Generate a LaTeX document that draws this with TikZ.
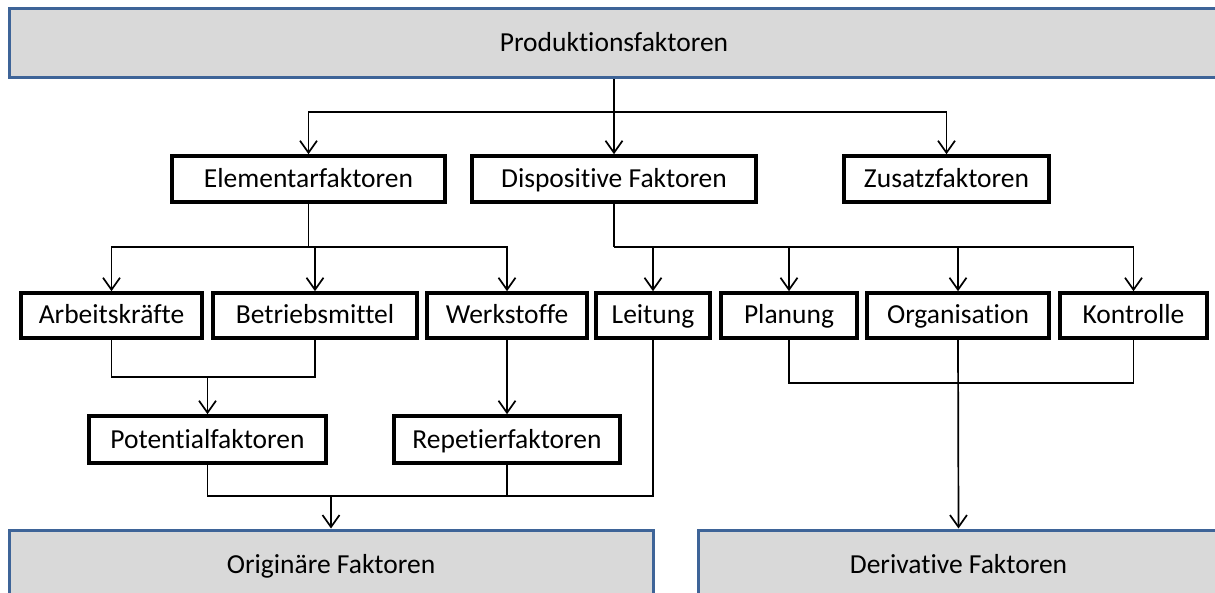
\documentclass[tikz,border=0pt]{standalone}
\usepackage{fontspec}
\setmainfont{Carlito}[Ligatures={NoCommon,NoDiscretionary,NoContextual}]
\usetikzlibrary{arrows.meta}
\definecolor{bborder}{RGB}{62,100,152}
\definecolor{bfill}{RGB}{217,217,217}
\tikzset{
  bluebox/.style={draw=bborder, line width=3pt, fill=bfill, rectangle, inner sep=0pt,
    text height=17pt, text depth=0pt, font=\fontsize{27.5}{31}\selectfont},
  itembox/.style={draw=black, line width=3.6pt, fill=white, rectangle, inner sep=0pt,
    text height=17pt, text depth=0pt, font=\fontsize{27.5}{31}\selectfont},
  conn/.style={draw=black, line width=1.7pt},
  arr/.style={conn, -{Straight Barb[length=12pt,width=17pt,line width=1.7pt]}}
}
\begin{document}
\begin{tikzpicture}[x=1pt,y=-1pt]
\useasboundingbox (0,0) rectangle (1215,593);
\clip (0,0) rectangle (1215,593);
% top and bottom boxes
\node[bluebox, minimum width=1210pt, minimum height=69pt] (top) at (614,43.5) {Produktionsfaktoren};
\node[bluebox, minimum width=644pt, minimum height=70pt] (orig) at (331,565) {Origin\"are Faktoren};
\node[bluebox, minimum width=521pt, minimum height=70pt] (deriv) at (958.5,565) {Derivative Faktoren};
% row 2
\node[itembox, minimum width=273pt, minimum height=46pt] (elem) at (308.5,179) {Elementarfaktoren};
\node[itembox, minimum width=284pt, minimum height=46pt] (disp) at (614,179) {Dispositive Faktoren};
\node[itembox, minimum width=205pt, minimum height=46pt] (zus) at (946.5,179) {Zusatzfaktoren};
% row 3
\node[itembox, minimum width=181pt, minimum height=45pt] (arb) at (111.5,315.5) {Arbeitskr\"afte};
\node[itembox, minimum width=204pt, minimum height=45pt] (betr) at (315,315.5) {Betriebsmittel};
\node[itembox, minimum width=160pt, minimum height=45pt] (werk) at (507,315.5) {Werkstoffe};
\node[itembox, minimum width=114pt, minimum height=45pt] (leit) at (653,315.5) {Leitung};
\node[itembox, minimum width=136pt, minimum height=45pt] (plan) at (789,315.5) {Planung};
\node[itembox, minimum width=182pt, minimum height=45pt] (org) at (958,315.5) {Organisation};
\node[itembox, minimum width=147pt, minimum height=45pt] (kon) at (1133.5,315.5) {Kontrolle};
% row 4
\node[itembox, minimum width=237pt, minimum height=47pt] (pot) at (207.5,439.5) {Potentialfaktoren};
\node[itembox, minimum width=226pt, minimum height=47pt] (rep) at (507,439.5) {Repetierfaktoren};
% junctions
\coordinate (j1) at (614,112);
\coordinate (j2) at (308.5,247);
\coordinate (j3) at (614,247);
\coordinate (j4) at (207.5,377);
\coordinate (j5) at (331,496);
\coordinate (j6) at (958,383);
% connectors
\draw[arr] (top.south -| disp.north) -- (disp.north);
\draw[arr] (j1) -| (elem.north);
\draw[arr] (j1) -| (zus.north);
\draw[conn] (elem.south) -- (j2);
\draw[arr] (j2) -| (arb.north);
\draw[arr] (j2) -| (betr.north);
\draw[arr] (j2) -| (werk.north);
\draw[conn] (disp.south) -- (j3);
\draw[arr] (j3) -| (leit.north);
\draw[arr] (j3) -| (plan.north);
\draw[arr] (j3) -| (org.north);
\draw[arr] (j3) -| (kon.north);
\draw[conn] (arb.south) |- (j4) -| (betr.south);
\draw[arr] (j4) -- (pot.north);
\draw[arr] (werk.south) -- (rep.north);
\draw[conn] (pot.south) |- (j5) -| (leit.south);
\draw[conn] (rep.south) -- (rep.south |- j5);
\draw[arr] (j5) -- (orig.north);
\draw[conn] (plan.south) |- (j6) -| (kon.south);
\draw[arr] (org.south) -- (deriv.north);
\end{tikzpicture}
\end{document}
